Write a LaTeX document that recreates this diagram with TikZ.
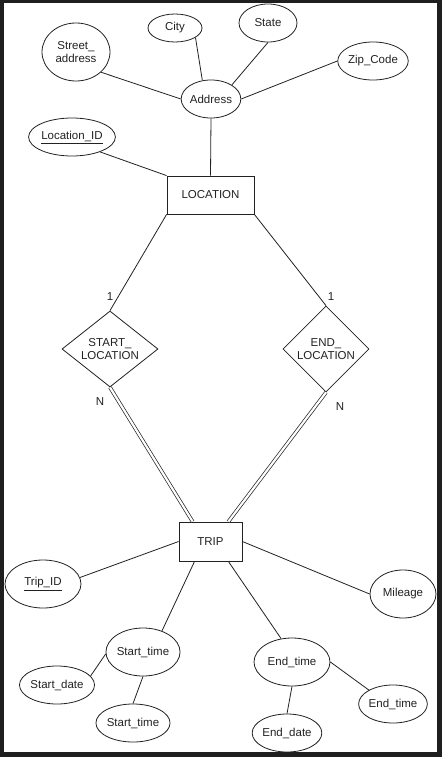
\documentclass[tikz,border=0pt]{standalone}
\usepackage{fontspec}
\setmainfont{Liberation Sans}
\usetikzlibrary{shapes.geometric,calc}
\definecolor{frame}{HTML}{1F1F1F}
\definecolor{ink}{HTML}{222222}
\tikzset{
  base/.style={draw=ink,line width=0.8pt,text=ink,inner sep=0pt,align=center,
    font=\fontsize{11.5}{13}\selectfont},
  attr/.style={base,ellipse,minimum width=#1},
  entity/.style={base,rectangle},
  rel/.style={base,diamond},
  link/.style={draw=ink,line width=0.8pt},
  ident/.style={draw=ink,line width=0.7pt,double=white,double distance=2.2pt},
  card/.style={text=ink,inner sep=0pt,font=\fontsize{11.5}{13}\selectfont}
}
\begin{document}
\begin{tikzpicture}[x=1pt,y=-1pt]
  % page frame
  \fill[frame] (0,0) rectangle (442,757);
  \fill[white] (4,3) rectangle (437,752);
  \useasboundingbox (0,0) rectangle (442,757);

  % LOCATION entity and its attributes
  \node[entity,minimum width=87,minimum height=38] (loc) at (210.5,195) {LOCATION};
  \node[attr=57,minimum height=38] (addr) at (211,99) {Address};
  \node[attr=68,minimum height=58] (street) at (76,52) {Street\_\\address};
  \node[attr=54,minimum height=28] (city) at (175,28) {City};
  \node[attr=58,minimum height=38] (state) at (268,23) {State};
  \node[attr=68,minimum height=38] (zip) at (373,61) {Zip\_Code};
  \node[attr=76,minimum height=38] (locid) at (72,137) {\underline{Location\_ID}};

  \draw[link] (street.-39) -- (addr.west);
  \draw[link] (city.-25) -- (addr.115);
  \draw[link] (state.south) -- (addr.34);
  \draw[link] (zip.west) -- (addr.east);
  \draw[link] (addr.south) -- (loc.north);
  \draw[link] (locid.-28) -- (loc.north west);

  % relationships
  \node[rel,aspect=1.3,minimum width=96,minimum height=76] (sloc) at (110,349)
    {\fontsize{11.5}{12.7}\selectfont START\_\\LOCATION};
  \node[rel,aspect=1,minimum width=86,minimum height=86] (eloc) at (326,349)
    {\fontsize{11.5}{12.7}\selectfont END\_\\LOCATION};

  % TRIP entity
  \node[entity,minimum width=63,minimum height=39] (trip) at (210.5,541.5) {TRIP};

  \draw[link] (loc.south west) -- (sloc.north);
  \draw[link] (loc.south east) -- (eloc.north);
  \draw[ident] (sloc.south) -- ($(trip.north west)!0.22!(trip.north east)$);
  \draw[ident] (eloc.south) -- ($(trip.north west)!0.78!(trip.north east)$);

  \node[card] (c1) at (110,297) {1};
  \node[card] (c2) at (331,297) {1};
  \node[card] (n1) at (100,402) {N};
  \node[card] (n2) at (340,407) {N};

  % TRIP attributes
  \node[attr=76,minimum height=48] (tripid) at (43,584) {\underline{Trip\_ID}};
  \node[attr=66,minimum height=48] (mile) at (403,594) {Mileage};
  \node[attr=72,minimum height=48] (stime) at (143,652) {Start\_time};
  \node[attr=76,minimum height=48] (etime) at (292,662) {End\_time};
  \node[attr=68,minimum height=38] (sdate) at (57,685) {Start\_date};
  \node[attr=66,minimum height=38] (stime2) at (133,723) {Start\_time};
  \node[attr=67,minimum height=38] (edate) at (287,733) {End\_date};
  \node[attr=68,minimum height=38] (etime2) at (393,704) {End\_time};

  \draw[link] (tripid.10) -- (trip.west);
  \draw[link] (trip.east) -- (mile.west);
  \draw[link] ($(trip.south west)!0.25!(trip.south east)$) -- (stime.48);
  \draw[link] ($(trip.south west)!0.78!(trip.south east)$) -- (etime.115);
  \draw[link] (sdate.15) -- (stime.183);
  \draw[link] (stime2.north) -- (stime.south);
  \draw[link] (edate.north) -- (etime.south);
  \draw[link] (etime.east) -- (etime2.150);
\end{tikzpicture}
\end{document}
